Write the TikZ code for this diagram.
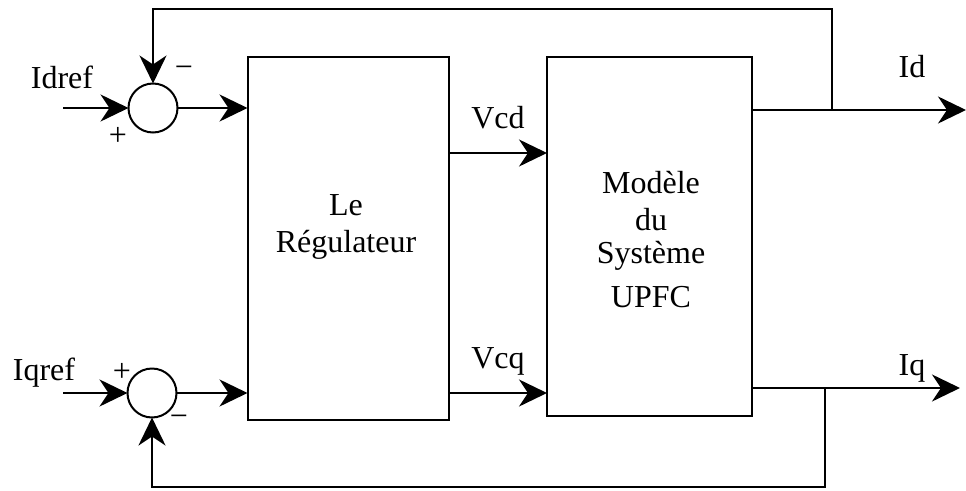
\documentclass[tikz,border=0pt]{standalone}
\usepackage{fontspec}
\setmainfont{Liberation Serif}
\usetikzlibrary{arrows.meta}
\begin{document}
\begin{tikzpicture}[x=1pt,y=-1pt,
  every node/.style={font=\fontsize{32}{38}\selectfont, inner sep=0pt, outer sep=0pt},
  block/.style={draw, line width=2pt},
  sumnode/.style={draw, circle, line width=2pt, minimum size=49pt},
  sig/.style={line width=2.8pt, -{Stealth[length=28pt,width=27pt,inset=9pt]}},
  txt/.style={anchor=base}]
\useasboundingbox (0,0) rectangle (966,490);

% blocks
\node[block, minimum width=201pt, minimum height=363pt] (reg) at (348,238.5) {};
\node[block, minimum width=205pt, minimum height=359pt] (sys) at (649.5,236.5) {};

% summing junctions
\node[sumnode] (s1) at (153,108) {};
\node[sumnode] (s2) at (152,393) {};

% block texts
\node[txt] (t1) at (346,215) {Le};
\node[txt] (t2) at (346,252) {Régulateur};
\node[txt] (t3) at (651,193) {Modèle};
\node[txt] (t4) at (651,230) {du};
\node[txt] (t5) at (651,263) {Système};
\node[txt] (t6) at (651,307) {UPFC};

% signal labels
\node[txt] (lidref) at (62,88) {Idref};
\node[txt] (liqref) at (44,380) {Iqref};
\node[txt] (lvcd) at (498,128) {Vcd};
\node[txt] (lvcq) at (498,368) {Vcq};
\node[txt] (lid) at (912,77) {Id};
\node[txt] (liq) at (912,375) {Iq};

% signs
\node (p1) at (118,136) {+};
\node (m1) at (184,72) {−};
\node (p2) at (122,372) {+};
\node (m2) at (179,421) {−};

% coordinates
\coordinate (in1) at (63,108);
\coordinate (in2) at (63,393);
\coordinate (vcd) at (0,153);
\coordinate (vcq) at (0,393);
\coordinate (idl) at (0,110);
\coordinate (iql) at (0,388);
\coordinate (outd) at (966,110);
\coordinate (outq) at (960,388);
\coordinate (tapd) at (832,110);
\coordinate (tapq) at (825,388);
\coordinate (topy) at (0,9);
\coordinate (boty) at (0,487);

% forward paths
\draw[sig] (in1) -- (s1.west);
\draw[sig] (in2) -- (s2.west);
\draw[sig] (s1.east) -- (reg.west |- s1);
\draw[sig] (s2.east) -- (reg.west |- s2);
\draw[sig] (reg.east |- vcd) -- (sys.west |- vcd);
\draw[sig] (reg.east |- vcq) -- (sys.west |- vcq);
\draw[sig] (sys.east |- idl) -- (outd);
\draw[sig] (sys.east |- iql) -- (outq);

% feedback paths
\draw[sig] (tapd) -- (tapd |- topy) -- (s1 |- topy) -- (s1.north);
\draw[sig] (tapq) -- (tapq |- boty) -- (s2 |- boty) -- (s2.south);
\end{tikzpicture}
\end{document}
